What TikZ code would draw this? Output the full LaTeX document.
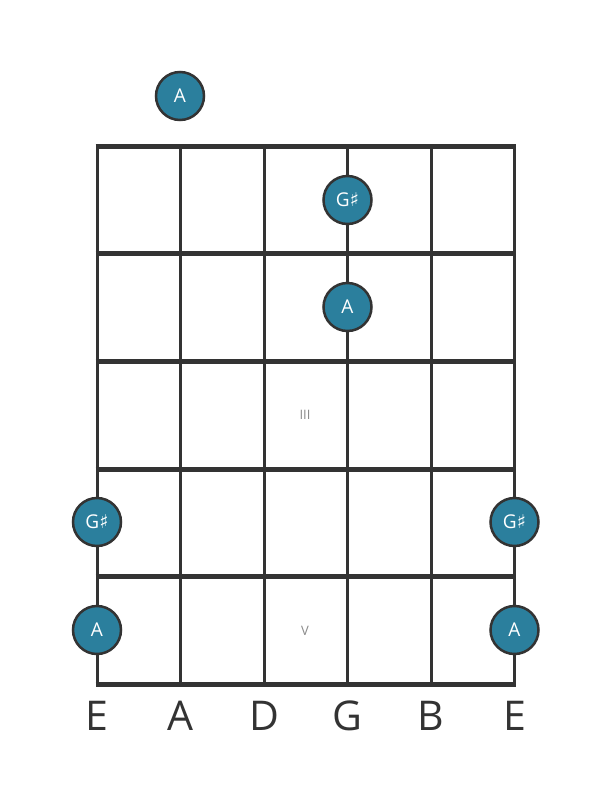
\documentclass[tikz,border=0pt]{standalone}
\usepackage{fontspec}
\setmainfont{Open Sans}
\newfontfamily\symfont{DejaVu Sans}
\newcommand{\shrp}{{\symfont ♯}}
\definecolor{notefill}{HTML}{2B7F9D}
\definecolor{lineclr}{HTML}{333333}
\definecolor{romanclr}{HTML}{8A8A8A}
\begin{document}
\begin{tikzpicture}[x=1pt,y=-1pt,
  stringline/.style={draw=lineclr,line width=3pt},
  fretline/.style={draw=lineclr,line width=5pt},
  note/.style={circle,fill=notefill,draw=lineclr,line width=2.5pt,minimum size=48pt,inner sep=0pt,text=white,font=\fontsize{19}{19}\selectfont},
  strlabel/.style={text=lineclr,font=\fontsize{41}{41}\selectfont,inner sep=0pt},
  roman/.style={text=romanclr,font=\fontsize{13}{13}\selectfont,inner sep=0pt}]
\useasboundingbox (0,0) rectangle (611,801);
\fill[white] (0,0) rectangle (611,801);
% string coordinates
\foreach \i/\x in {1/97,2/180.5,3/264,4/347.5,5/431,6/514.5}{
  \coordinate (st\i) at (\x,146);
  \coordinate (sb\i) at (\x,684.5);
}
\foreach \i in {1,...,6}{ \draw[stringline] (st\i) -- (sb\i); }
\foreach \j/\y in {0/146,1/253.7,2/361.4,3/469,4/576.7,5/684.4}{
  \coordinate (fl\j) at (95.5,\y);
  \coordinate (fr\j) at (516,\y);
  \draw[fretline] (fl\j) -- (fr\j);
}
% roman numerals
\node[roman] (r3) at (305,415) {III};
\node[roman] (r5) at (305,631) {V};
% notes
\node[note] (n1) at (180,96) {A};
\node[note] (n2) at (347.5,200) {G\shrp};
\node[note] (n3) at (347.5,307) {A};
\node[note] (n4) at (97,522) {G\shrp};
\node[note] (n5) at (514.5,522) {G\shrp};
\node[note] (n6) at (97,630) {A};
\node[note] (n7) at (514.5,630) {A};
% string names
\foreach \i/\x/\t in {1/97/E,2/180.5/A,3/264/D,4/347.5/G,5/431/B,6/514.5/E}{
  \node[strlabel,anchor=base] (lab\i) at (\x,730) {\t};
}
\end{tikzpicture}
\end{document}
